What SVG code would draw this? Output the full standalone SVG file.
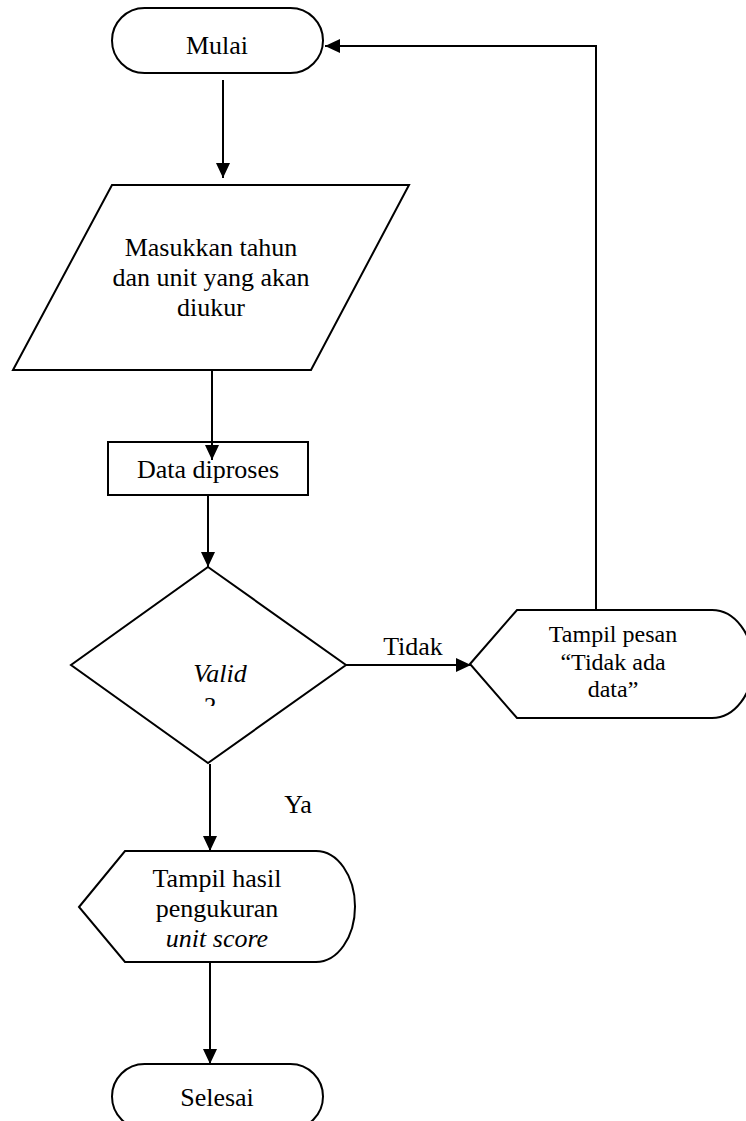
<svg xmlns="http://www.w3.org/2000/svg" width="746" height="1121" viewBox="0 0 746 1121">
<style>
.s{fill:#fff;stroke:#000;stroke-width:2}
.c{fill:none;stroke:#000;stroke-width:2}
.t{font-family:"Liberation Serif","Times New Roman",serif;font-size:26px;fill:#000;text-anchor:middle}
.sm{font-size:24px}
.i{font-style:italic}
</style>
<defs>
<marker id="ah" markerUnits="userSpaceOnUse" markerWidth="16" markerHeight="16" viewBox="0 0 16 16" refX="15" refY="8" orient="auto">
<path d="M0,1 L15,8 L0,15 Z" fill="#000"/>
</marker>
<clipPath id="qclip"><rect x="0" y="0" width="746" height="706"/></clipPath>
</defs>
<rect width="746" height="1121" fill="#fff"/>
<g id="mulai">
<rect class="s" x="112" y="8" width="211" height="65" rx="32.5"/>
<text class="t" x="217" y="54">Mulai</text>
</g>
<g id="input">
<polygon class="s" points="112,185 409,185 311,370 13,370"/>
<text class="t" x="211" y="256">Masukkan tahun</text>
<text class="t" x="211" y="286">dan unit yang akan</text>
<text class="t" x="211" y="316">diukur</text>
</g>
<g id="proses">
<rect class="s" x="108" y="442" width="200" height="53"/>
<text class="t" x="208" y="478">Data diproses</text>
</g>
<g id="valid">
<polygon class="s" points="208,567 346,665 208,763 71,665"/>
<text class="t i" x="220" y="682">Valid</text>
<text class="t" x="210" y="715" clip-path="url(#qclip)">?</text>
</g>
<g id="pesan">
<path class="s" d="M470,664 L517,610 H712 A41,54 0 0 1 712,718 H517 Z"/>
<text class="t sm" x="613" y="642">Tampil pesan</text>
<text class="t sm" x="613" y="670">“Tidak ada</text>
<text class="t sm" x="613" y="697">data”</text>
</g>
<g id="hasil">
<path class="s" d="M79,907 L125,851 H316 A39,55.5 0 0 1 316,962 H125 Z"/>
<text class="t" x="217" y="887">Tampil hasil</text>
<text class="t" x="217" y="917">pengukuran</text>
<text class="t i" x="217" y="947">unit score</text>
</g>
<g id="selesai">
<rect class="s" x="112" y="1064" width="211" height="65" rx="32.5"/>
<text class="t" x="217" y="1106">Selesai</text>
</g>
<g id="connectors">
<path class="c" d="M223,80 V178" marker-end="url(#ah)"/>
<path class="c" d="M212,370 V460" marker-end="url(#ah)"/>
<path class="c" d="M208,495 V567" marker-end="url(#ah)"/>
<path class="c" d="M346,665 H471" marker-end="url(#ah)"/>
<path class="c" d="M596,610 V46 H325" marker-end="url(#ah)"/>
<path class="c" d="M210,764 V851" marker-end="url(#ah)"/>
<path class="c" d="M210,962 V1064" marker-end="url(#ah)"/>
<text class="t" x="413" y="655">Tidak</text>
<text class="t" x="298" y="813">Ya</text>
</g>
</svg>
